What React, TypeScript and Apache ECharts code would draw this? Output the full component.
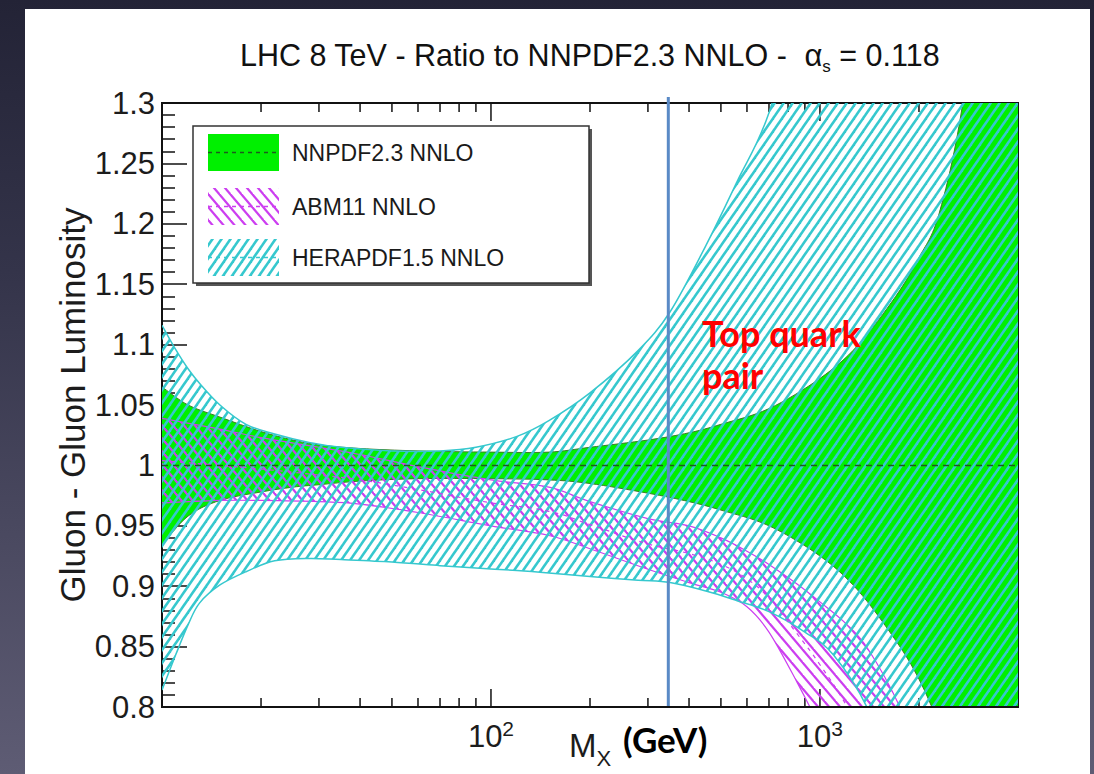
import React, { useEffect, useRef } from "react";
import * as echarts from "echarts";

const FONT = '"Liberation Sans", Arial, Helvetica, sans-serif';
const BOLD_FONT = 'Lato, "Open Sans", sans-serif';

// Axis ranges
const X_MIN = 10;
const X_MAX = 4000;
const Y_MIN = 0.8;
const Y_MAX = 1.3;
const Y_STEP = 0.05;

// Top-quark pair threshold, 2 x m_top (GeV)
const TOP_PAIR_MASS = 346;

// Tick positions on the log mass axis
const X_MINOR_TICKS = [20, 30, 40, 50, 60, 70, 80, 90, 200, 300, 400, 500, 600, 700, 800, 900, 2000, 3000];
const X_MAJOR_TICKS = [100, 1000];

// NNPDF2.3 NNLO uncertainty band (reference set, ratio = 1)
const NNPDF_MASS = [10, 12, 15, 20, 25, 30, 40, 60, 100, 150, 200, 300, 400, 500, 700, 1000, 1300, 1700, 2000, 2300, 2700, 3200, 4000];
const NNPDF_LO = [0.934, 0.958, 0.971, 0.978, 0.982, 0.984, 0.987, 0.989, 0.989, 0.988, 0.985, 0.977, 0.97, 0.963, 0.95, 0.925, 0.897, 0.855, 0.823, 0.785, 0.73, 0.65, 0.5];
const NNPDF_HI = [1.065, 1.05, 1.04, 1.028, 1.021, 1.017, 1.014, 1.012, 1.011, 1.011, 1.015, 1.021, 1.027, 1.034, 1.047, 1.072, 1.099, 1.14, 1.172, 1.208, 1.295, 1.45, 1.7];
const NNPDF_CENTRAL_MASS = [10, 4000];
const NNPDF_CENTRAL = [1.0, 1.0];

// ABM11 NNLO band
const ABM_MASS = [10, 15, 20, 30, 40, 60, 100, 150, 200, 300, 400, 500, 600, 700, 850, 1000, 1200, 1400, 1750, 2500];
const ABM_LO = [0.969, 0.971, 0.971, 0.97, 0.968, 0.961, 0.95, 0.942, 0.931, 0.914, 0.903, 0.895, 0.883, 0.862, 0.821, 0.783, 0.735, 0.69, 0.62, 0.5];
const ABM_HI = [1.039, 1.03, 1.023, 1.015, 1.009, 0.999, 0.988, 0.982, 0.97, 0.956, 0.95, 0.94, 0.929, 0.918, 0.902, 0.887, 0.869, 0.848, 0.8, 0.7];
const ABM_CENTRAL = [1.004, 1.0, 0.997, 0.992, 0.988, 0.98, 0.969, 0.962, 0.951, 0.935, 0.927, 0.918, 0.906, 0.89, 0.861, 0.835, 0.802, 0.769, 0.71, 0.6];

// HERAPDF1.5 NNLO band
const HERA_MASS = [10, 11, 12, 13, 15, 18, 22, 28, 35, 50, 70, 90, 120, 150, 200, 280, 350, 450, 560, 700, 900, 1100, 1400, 1800, 2500, 4000];
const HERA_LO = [0.814, 0.843, 0.868, 0.886, 0.901, 0.912, 0.921, 0.923, 0.922, 0.92, 0.917, 0.915, 0.913, 0.911, 0.908, 0.905, 0.903, 0.896, 0.888, 0.879, 0.862, 0.843, 0.798, 0.72, 0.6, 0.4];
const HERA_HI = [1.116, 1.096, 1.08, 1.068, 1.05, 1.034, 1.026, 1.019, 1.015, 1.012, 1.012, 1.015, 1.024, 1.037, 1.06, 1.095, 1.127, 1.182, 1.235, 1.292, 1.4, 1.5, 1.65, 1.85, 2.1, 2.6];

const LEGEND_LABELS = ["NNPDF2.3 NNLO", "ABM11 NNLO", "HERAPDF1.5 NNLO"];

const GREEN = "#00f000";
const GREEN_EDGE = "#3d7a2a";
const MAGENTA = "#cc3ef0";
const CYAN = "#36c8ce";

// Diagonal hatch tile; dir 1 draws "/" lines, dir -1 draws "\" lines
function makeHatch(color: string, w: number, h: number, lw: number, dir: number) {
  const c = document.createElement("canvas");
  c.width = w;
  c.height = h;
  const ctx = c.getContext("2d")!;
  ctx.strokeStyle = color;
  ctx.lineWidth = lw;
  for (const k of [-1, 0, 1]) {
    ctx.beginPath();
    if (dir === 1) {
      ctx.moveTo(k * w - w, 2 * h);
      ctx.lineTo(k * w + 2 * w, -h);
    } else {
      ctx.moveTo(k * w - w, -h);
      ctx.lineTo(k * w + 2 * w, 2 * h);
    }
    ctx.stroke();
  }
  return { image: c, repeat: "repeat", imageWidth: w, imageHeight: h };
}

// Catmull-Rom curve through pixel points, written as cubic Bezier segments
function curve(pts: number[][], start: boolean) {
  let d = (start ? "M" : "L") + pts[0][0] + "," + pts[0][1];
  for (let i = 0; i < pts.length - 1; i++) {
    const p0 = pts[Math.max(i - 1, 0)];
    const p1 = pts[i];
    const p2 = pts[i + 1];
    const p3 = pts[Math.min(i + 2, pts.length - 1)];
    const c1x = p1[0] + (p2[0] - p0[0]) / 6;
    const c1y = p1[1] + (p2[1] - p0[1]) / 6;
    const c2x = p2[0] - (p3[0] - p1[0]) / 6;
    const c2y = p2[1] - (p3[1] - p1[1]) / 6;
    d += "C" + c1x + "," + c1y + "," + c2x + "," + c2y + "," + p2[0] + "," + p2[1];
  }
  return d;
}

function bandSeries(name: string, mass: number[], lo: number[], hi: number[], fill: any, edge: string, edgeWidth: number, z: number) {
  return {
    type: "custom",
    name,
    coordinateSystem: "cartesian2d",
    z,
    silent: true,
    data: [[mass[0], lo[0]]],
    renderItem: (params: any, api: any) => {
      const up = mass.map((m, i) => api.coord([m, hi[i]]));
      const dn = mass.map((m, i) => api.coord([m, lo[i]]));
      const upD = curve(up, true);
      const fillD = upD + curve(dn.slice().reverse(), false) + "Z";
      const cs = params.coordSys;
      return {
        type: "group",
        clipPath: { type: "rect", shape: { x: cs.x, y: cs.y, width: cs.width, height: cs.height } },
        children: [
          { type: "path", shape: { pathData: fillD }, style: { fill, stroke: "none" } },
          { type: "path", shape: { pathData: upD }, style: { fill: "none", stroke: edge, lineWidth: edgeWidth } },
          { type: "path", shape: { pathData: curve(dn, true) }, style: { fill: "none", stroke: edge, lineWidth: edgeWidth } },
        ],
      };
    },
  };
}

export default function App() {
  const ref = useRef<HTMLDivElement>(null);

  useEffect(() => {
    const chart = echarts.init(ref.current!, null, { renderer: "svg", width: 1094, height: 774 });
    const cyanHatch = makeHatch(CYAN, 9, 13, 2.6, 1);
    const magentaHatch = makeHatch(MAGENTA, 11, 13, 2.2, -1);

    const tickData = [
      ...X_MINOR_TICKS.map((m) => [m, Y_MIN, 0]),
      ...X_MAJOR_TICKS.map((m) => [m, Y_MIN, 1]),
    ];

    const legendRows = [
      { y: 134, fill: GREEN, dash: "#1d5a1d", label: LEGEND_LABELS[0] },
      { y: 188, fill: magentaHatch, dash: MAGENTA, label: LEGEND_LABELS[1] },
      { y: 239, fill: cyanHatch, dash: CYAN, label: LEGEND_LABELS[2] },
    ];

    const legendElements: any[] = [
      { type: "rect", z: 100, silent: true, shape: { x: 196, y: 129, width: 396, height: 157 }, style: { fill: "#555" } },
      { type: "rect", z: 101, silent: true, shape: { x: 193, y: 126, width: 396, height: 157 }, style: { fill: "#fff", stroke: "#333", lineWidth: 1.5 } },
    ];
    legendRows.forEach((r) => {
      legendElements.push(
        { type: "rect", z: 102, silent: true, shape: { x: 208, y: r.y, width: 71, height: 37 }, style: { fill: r.fill } },
        { type: "line", z: 103, silent: true, shape: { x1: 208, y1: r.y + 18.5, x2: 279, y2: r.y + 18.5 }, style: { stroke: r.dash, lineWidth: 1.5, lineDash: [4, 4] } },
        {
          type: "text", z: 103, silent: true,
          style: { text: r.label, x: 292, y: r.y + 19, fill: "#1a1a1a", font: "23px " + FONT, textAlign: "left", textVerticalAlign: "middle", align: "left", verticalAlign: "middle" },
        }
      );
    });

    const option: any = {
      animation: false,
      backgroundColor: "transparent",
      textStyle: { fontFamily: FONT },
      title: {
        text: "{t|LHC 8 TeV - Ratio to NNPDF2.3 NNLO -  }{a|α}{s|s}{t| = 0.118}",
        left: 235,
        top: 30,
        textStyle: {
          fontWeight: "normal",
          rich: {
            t: { fontSize: 30.5, fontFamily: FONT, fontWeight: "normal", color: "#111", lineHeight: 40 },
            a: { fontSize: 31, fontFamily: FONT, fontWeight: "normal", color: "#111", lineHeight: 40 },
            s: { fontSize: 17, fontFamily: FONT, fontWeight: "normal", color: "#111", lineHeight: 17, verticalAlign: "bottom" },
          },
        },
      },
      grid: {
        left: 162, top: 103, right: 76, bottom: 67,
        containLabel: false, outerBoundsMode: "none",
        show: true, borderColor: "#111", borderWidth: 2, backgroundColor: "transparent",
      },
      xAxis: {
        type: "log",
        logBase: 10,
        min: X_MIN,
        max: X_MAX,
        z: 10,
        axisLine: { show: true, onZero: false, lineStyle: { color: "#111", width: 2 } },
        axisTick: { show: false },
        minorTick: { show: false },
        splitLine: { show: false },
        axisLabel: {
          margin: 11,
          formatter: (v: number) => {
            const lg = Math.log10(v);
            const e = Math.round(lg);
            return (e === 2 || e === 3) && Math.abs(lg - e) < 1e-6 ? "{b|10}{p|" + e + "}" : "";
          },
          rich: {
            b: { fontSize: 31, fontFamily: FONT, color: "#1c1c1c", lineHeight: 36 },
            p: { fontSize: 21, fontFamily: FONT, color: "#1c1c1c", lineHeight: 24, verticalAlign: "top" },
          },
        },
        name: "{m|M}{x|X}",
        nameLocation: "middle",
        nameGap: 22,
        nameMoveOverlap: false,
        nameTextStyle: {
          rich: {
            m: { fontSize: 33, fontFamily: FONT, color: "#1c1c1c", lineHeight: 40, verticalAlign: "top" },
            x: { fontSize: 22, fontFamily: FONT, color: "#1c1c1c", lineHeight: 22, verticalAlign: "bottom" },
          },
        },
      },
      yAxis: {
        type: "value",
        min: Y_MIN,
        max: Y_MAX,
        interval: Y_STEP,
        axisLine: { show: true, lineStyle: { color: "#111", width: 2 } },
        axisTick: { show: true, inside: true, length: 25, lineStyle: { color: "#111", width: 1.5 } },
        minorTick: { show: true, splitNumber: 5, length: 13, lineStyle: { color: "#111", width: 1.5 } },
        splitLine: { show: false },
        axisLabel: {
          fontSize: 31,
          color: "#1c1c1c",
          margin: 7,
          fontFamily: FONT,
          formatter: (v: number) => String(Math.round(v * 100) / 100),
        },
        name: "Gluon - Gluon Luminosity",
        nameLocation: "middle",
        nameRotate: 90,
        nameGap: 72,
        nameMoveOverlap: false,
        nameTextStyle: { fontSize: 35, color: "#1c1c1c", fontFamily: FONT },
      },
      graphic: {
        elements: [
          { type: "rect", z: -10, silent: true, shape: { x: 25, y: 9, width: 1065, height: 780 }, style: { fill: "#ffffff" } },
          ...legendElements,
          {
            type: "text", z: 120, silent: true,
            style: { text: "Top quark", x: 702, y: 333, fill: "#ff0000", font: "bold 36px " + BOLD_FONT, textAlign: "left", textVerticalAlign: "middle", align: "left", verticalAlign: "middle" },
          },
          {
            type: "text", z: 120, silent: true,
            style: { text: "pair", x: 702, y: 375, fill: "#ff0000", font: "bold 36px " + BOLD_FONT, textAlign: "left", textVerticalAlign: "middle", align: "left", verticalAlign: "middle" },
          },
          {
            type: "text", z: 120, silent: true,
            style: { text: "(GeV)", x: 623, y: 739, fill: "#000", font: "bold 35px " + BOLD_FONT, textAlign: "left", textVerticalAlign: "middle", align: "left", verticalAlign: "middle" },
          },
        ],
      },
      series: [
        {
          type: "custom",
          name: "ticks",
          coordinateSystem: "cartesian2d",
          z: 1,
          silent: true,
          encode: { x: 0, y: 1 },
          data: tickData,
          renderItem: (params: any, api: any) => {
            const m = api.value(0);
            const len = api.value(2) ? 18 : 9;
            const b = api.coord([m, Y_MIN]);
            const t = api.coord([m, Y_MAX]);
            return {
              type: "group",
              children: [
                { type: "line", shape: { x1: b[0], y1: b[1], x2: b[0], y2: b[1] - len }, style: { stroke: "#111", lineWidth: 1.5 } },
                { type: "line", shape: { x1: t[0], y1: t[1], x2: t[0], y2: t[1] + len }, style: { stroke: "#111", lineWidth: 1.5 } },
              ],
            };
          },
        },
        bandSeries("NNPDF2.3 NNLO", NNPDF_MASS, NNPDF_LO, NNPDF_HI, GREEN, GREEN_EDGE, 1, 2),
        bandSeries("ABM11 NNLO", ABM_MASS, ABM_LO, ABM_HI, magentaHatch, MAGENTA, 1.2, 3),
        bandSeries("HERAPDF1.5 NNLO", HERA_MASS, HERA_LO, HERA_HI, cyanHatch, CYAN, 1.5, 4),
        {
          type: "line",
          name: "ABM11 central",
          z: 5,
          silent: true,
          smooth: true,
          symbol: "none",
          data: ABM_MASS.map((m, i) => [m, ABM_CENTRAL[i]]),
          lineStyle: { color: MAGENTA, width: 1.2, type: [4, 5] },
        },
        {
          type: "line",
          name: "NNPDF2.3 central",
          z: 5,
          silent: true,
          symbol: "none",
          data: NNPDF_CENTRAL_MASS.map((m, i) => [m, NNPDF_CENTRAL[i]]),
          lineStyle: { color: "#1d5a1d", width: 1.5, type: [6, 5] },
        },
        {
          type: "custom",
          name: "top pair threshold",
          coordinateSystem: "cartesian2d",
          z: 6,
          silent: true,
          data: [[TOP_PAIR_MASS, Y_MIN]],
          renderItem: (params: any, api: any) => {
            const b = api.coord([api.value(0), Y_MIN]);
            const t = api.coord([api.value(0), Y_MAX]);
            return { type: "line", shape: { x1: b[0], y1: b[1] - 1, x2: t[0], y2: t[1] - 6 }, style: { stroke: "#5a8ac6", lineWidth: 3 } };
          },
        },
      ],
    };

    chart.setOption(option);
    return () => chart.dispose();
  }, []);

  return (
    <div
      ref={ref}
      style={{
        position: "absolute",
        left: 0,
        top: 0,
        width: 1094,
        height: 774,
        background: "linear-gradient(180deg, #232336 0%, #34344a 35%, #5e5c74 100%)",
      }}
    />
  );
}
